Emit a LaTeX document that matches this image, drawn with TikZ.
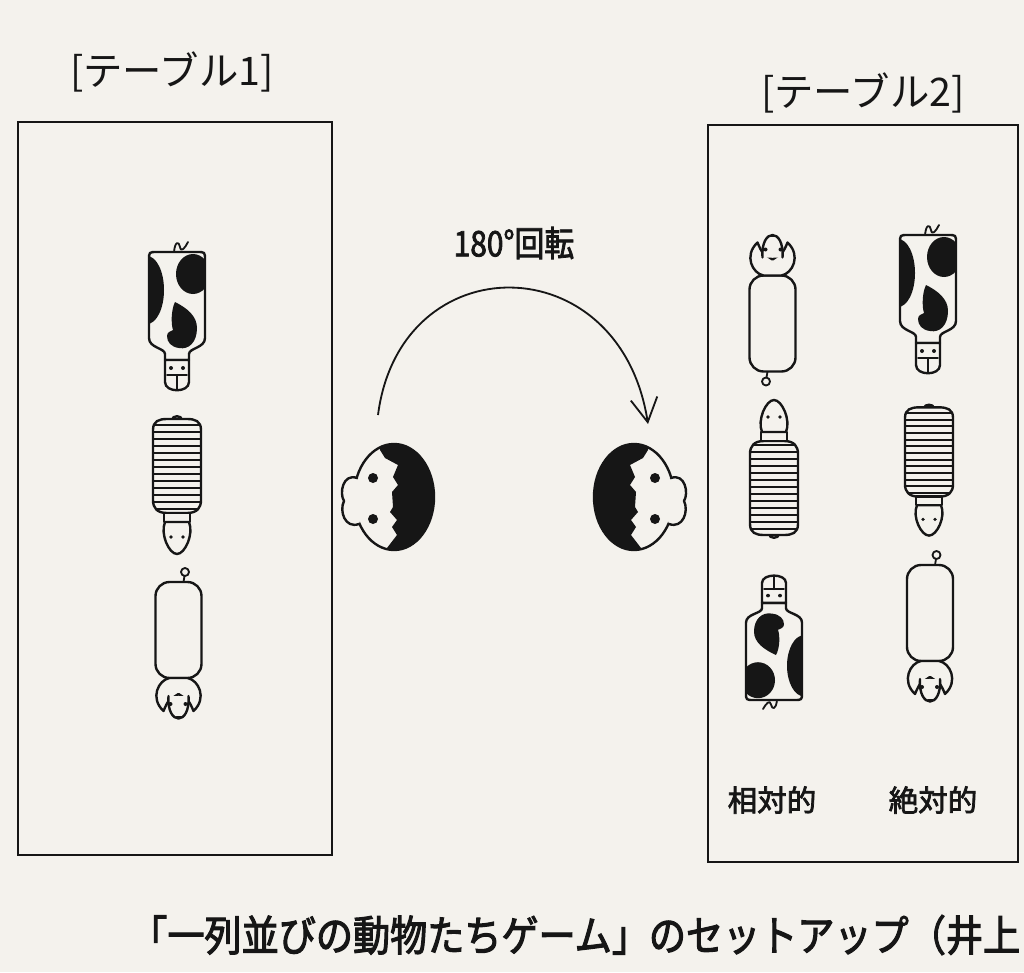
\documentclass[tikz,border=0pt]{standalone}
\usepackage{fontspec}
\newfontfamily\jp{Noto Sans CJK JP}
\newfontfamily\jpmid[FakeBold=2.5]{Noto Sans CJK JP}
\newfontfamily\jpcap[FakeStretch=0.88, FakeBold=2.5]{Noto Sans CJK JP}
\newfontfamily\jpnum[FakeStretch=0.85, FakeBold=2.2]{Noto Sans CJK JP}
\usetikzlibrary{arrows.meta}
\definecolor{paper}{RGB}{244,242,237}
\definecolor{ink}{RGB}{22,22,22}

% body outlines, used both for drawing and for clipping the markings
\newcommand\cowoutline{(-12,62) -- (-12,56) .. controls (-12,50) and (-28,50) .. (-28,40) -- (-28,-38) .. controls (-28,-46) .. (-20,-46) -- (20,-46) .. controls (28,-46) .. (28,-38) -- (28,40) .. controls (28,50) and (12,50) .. (12,56) -- (12,62) -- cycle}
\newcommand\armoutline{(-10,47) .. controls (-20,47) and (-24,42) .. (-24,34) -- (-24,-36) .. controls (-24,-45) and (-18,-47) .. (-10,-47) -- (10,-47) .. controls (18,-47) and (24,-45) .. (24,-36) -- (24,34) .. controls (24,42) and (20,47) .. (10,47) -- cycle}
\newcommand\faceoutline{(0,0) ellipse[x radius=40, y radius=53]}

\tikzset{
  outline/.style={draw=ink, line width=1.7pt, line join=round, line cap=round},
  frame/.style={draw=ink, line width=1.3pt},
  label/.style={text=ink, inner sep=1pt},
  % cow seen from above, head pointing down
  cow/.pic={
    \fill[paper] \cowoutline;
    \begin{scope}
      \clip \cowoutline;
      \fill[ink] (16,-24) ellipse[x radius=17, y radius=20];
      \fill[ink] (-30,-8) ellipse[x radius=17, y radius=34];
      \fill[ink] (-2,4) .. controls (10,10) and (20,18) .. (20,30) .. controls (20,44) and (12,52) .. (2,50) .. controls (-6,49) and (-10,44) .. (-10,38) .. controls (-10,34) and (-6,33) .. (-4,32) .. controls (-6,26) and (-6,12) .. (-2,4) -- cycle;
    \end{scope}
    \draw[outline] \cowoutline;
    \draw[outline, fill=paper] (-12,62) -- (-12,84) .. controls (-12,95) and (12,95) .. (12,84) -- (12,62) -- cycle;
    \fill[ink] (-6,70) circle[radius=2] (6,70) circle[radius=2];
    \draw[outline, line width=1.2pt] (-10,77) -- (10,77) (0,77) -- (0,91);
    \draw[outline, line width=1.3pt] (-3,-46) .. controls (-2,-57) and (2,-57) .. (3,-51) .. controls (4,-45) and (8,-50) .. (11,-56);
  },
  % striped animal, head pointing down
  armadillo/.pic={
    \draw[outline, fill=paper] (-5,-46) .. controls (-5,-51) and (5,-51) .. (5,-46);
    \fill[paper] \armoutline;
    \begin{scope}
      \clip \armoutline;
      \foreach \k in {0,...,12} {
        \draw[ink, line width=1.5pt] (-30,-41+7*\k) -- (30,-41+7*\k);
      }
    \end{scope}
    \draw[outline] \armoutline;
    \draw[outline, fill=paper] (-13,47) -- (-13,56) -- (13,56) -- (13,47) -- cycle;
    \draw[outline, fill=paper] (-12,56) .. controls (-17,68) and (-8,88) .. (0,88) .. controls (8,88) and (17,68) .. (12,56) -- cycle;
    \fill[ink] (-6,71) circle[radius=1.8] (6,71) circle[radius=1.8];
  },
  % pig, head pointing down
  pig/.pic={
    \draw[outline, line width=1.3pt] (5,-48) -- (6,-54) (6.5,-58) circle[radius=4];
    \draw[outline, fill=paper, rounded corners=10pt] (-23,-48) rectangle (23,48);
    \draw[outline, fill=paper] (-9,48) .. controls (-20,50) and (-29,68) .. (-15,81) .. controls (-13,76) and (-11,72) .. (-9,70) -- (0,64) -- (9,70) .. controls (11,72) and (13,76) .. (15,81) .. controls (29,68) and (20,50) .. (9,48) -- cycle;
    \draw[outline, fill=paper] (-10,66) .. controls (-12,96) and (12,96) .. (10,66);
    \fill[ink] (-8,74) circle[radius=2] (7,74) circle[radius=2];
    \draw[outline, line width=1.4pt] (-2,87) -- (3,87);
  },
  % player's head seen from above, ear to the left
  face/.pic={
    \fill[paper] \faceoutline;
    \begin{scope}
      \clip \faceoutline;
      \fill[ink] (-16,-60) -- (-14,-47) -- (-9,-39) -- (4,-32) -- (-1,-20) -- (4,-12) -- (-2,-5) -- (-1,10) -- (-4,15) -- (3,23) -- (-2,30) -- (3,38) -- (-7,51) -- (-8,60) -- (50,60) -- (50,-60) -- cycle;
    \end{scope}
    \draw[outline] \faceoutline;
    \fill[paper] (-37,-19) .. controls (-51,-24) and (-55,-4) .. (-50,4) .. controls (-55,14) and (-49,32) .. (-35,27) -- (-28,4) -- cycle;
    \draw[outline] (-37,-19) .. controls (-51,-24) and (-55,-4) .. (-50,4) .. controls (-55,14) and (-49,32) .. (-35,27);
    \fill[ink] (-21,-19) circle[radius=5] (-21,22) circle[radius=5];
  },
}

\begin{document}
\begin{tikzpicture}[x=0.025cm, y=-0.025cm]
  \clip (0,0) rectangle (1024,972);
  \fill[paper] (0,0) rectangle (1024,972);

  % table outlines
  \draw[frame] (18,122) rectangle (332,855);
  \draw[frame] (708,125) rectangle (1018,862);

  % headings
  \node[label, font=\jp\fontsize{28}{30}\selectfont] (t1) at (172,72) {[テーブル1]};
  \node[label, font=\jp\fontsize{28}{30}\selectfont] (t2) at (863,93) {[テーブル2]};

  % table 1
  \pic at (177,298) {cow};
  \pic at (177,466) {armadillo};
  \pic at (178.5,630) {pig};

  % table 2, relative placement
  \pic[rotate=180] at (772.5,323.5) {pig};
  \pic[rotate=180] at (774,488) {armadillo};
  \pic[rotate=180, yscale=0.9] at (774,658.6) {cow};

  % table 2, absolute placement
  \pic at (928,281) {cow};
  \pic[yscale=0.95] at (929,452) {armadillo};
  \pic at (930,613) {pig};

  % the player before and after turning round
  \pic at (394,497) {face};
  \pic[xscale=-1] at (634,497) {face};

  \coordinate (arcS) at (378,415);
  \coordinate (arcE) at (648,424);
  \draw[ink, line width=1.3pt, -{Straight Barb[length=17pt, width=19pt]}]
    (arcS) .. controls (400,244) and (620,244) .. (arcE);
  \node[label, font=\jpnum\fontsize{25}{27}\selectfont] (rot) at (514,243) {180°回転};

  \node[label, font=\jpmid\fontsize{21}{23}\selectfont] (rel) at (772,800) {相対的};
  \node[label, font=\jpmid\fontsize{21}{23}\selectfont] (abs) at (933,800) {絶対的};

  % caption
  \node[label, anchor=west, inner sep=0pt, font=\jpcap\fontsize{30}{32}\selectfont] (cap) at (130,935) {「一列並びの動物たちゲーム」のセットアップ（井上};
\end{tikzpicture}
\end{document}
